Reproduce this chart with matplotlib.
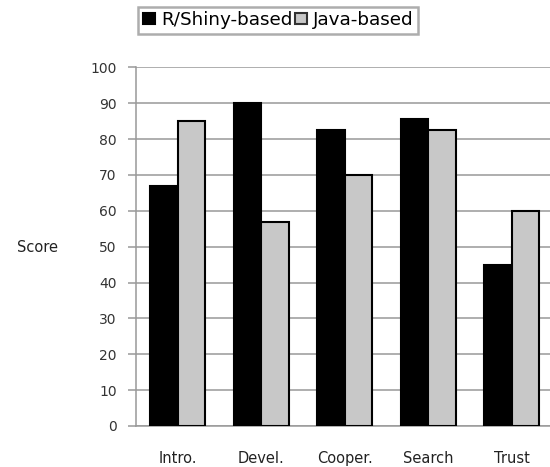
import numpy as np
import matplotlib.pyplot as plt
from matplotlib.patches import Patch

# survey scores per aspect
categories = ['Intro.', 'Devel.', 'Cooper.', 'Search', 'Trust']
shiny_scores = [67, 90, 82.5, 85.5, 45]
java_scores = [85, 57, 70, 82.5, 60]
series_names = ['R/Shiny-based', 'Java-based']

plt.rcParams['font.family'] = ['DejaVu Sans']

fig = plt.figure(figsize=(5.5, 4.67), dpi=100)
ax = fig.add_axes([0.2473, 0.0878, 0.759, 0.768])

x = np.arange(len(categories))
w = 0.33
ax.bar(x - w / 2, shiny_scores, w, color='black', edgecolor='black', linewidth=1.5, zorder=3)
ax.bar(x + w / 2, java_scores, w, color='#c8c8c8', edgecolor='black', linewidth=1.5, zorder=3)

ax.set_xlim(-0.5, 4.5)
ax.set_ylim(0, 100)
ax.set_yticks(range(0, 101, 10))
ax.set_xticks(x)
ax.set_xticklabels(categories)

ax.grid(axis='y', color='#999999', linewidth=1.1, zorder=0)
for side in ['top', 'right']:
    ax.spines[side].set_visible(False)
ax.spines['left'].set_color('#999999')
ax.spines['bottom'].set_color('#999999')
ax.spines['left'].set_linewidth(1.1)
ax.spines['bottom'].set_linewidth(1.1)

ax.tick_params(axis='y', length=6, color='#999999', width=1.1, labelsize=10,
               labelcolor='#333333', pad=8)
ax.tick_params(axis='x', length=0, labelsize=10.5, labelcolor='#222222', pad=18)

fig.text(0.068, 0.469, 'Score', fontsize=10.5, color='#222222', ha='center', va='center')

handles = [Patch(facecolor='black', edgecolor='black', linewidth=1.5),
           Patch(facecolor='#c8c8c8', edgecolor='#333333', linewidth=1.5)]
leg = fig.legend(handles, series_names, loc='upper center', bbox_to_anchor=(0.506, 0.986),
                 ncol=2, fontsize=13.2, frameon=True, fancybox=False,
                 handlelength=0.65, handleheight=0.6, handletextpad=0.35,
                 columnspacing=0.1, borderpad=0.25, borderaxespad=0)
leg.get_frame().set_edgecolor('#999999')
leg.get_frame().set_linewidth(1.8)

fig.savefig('out.png', dpi=100)
